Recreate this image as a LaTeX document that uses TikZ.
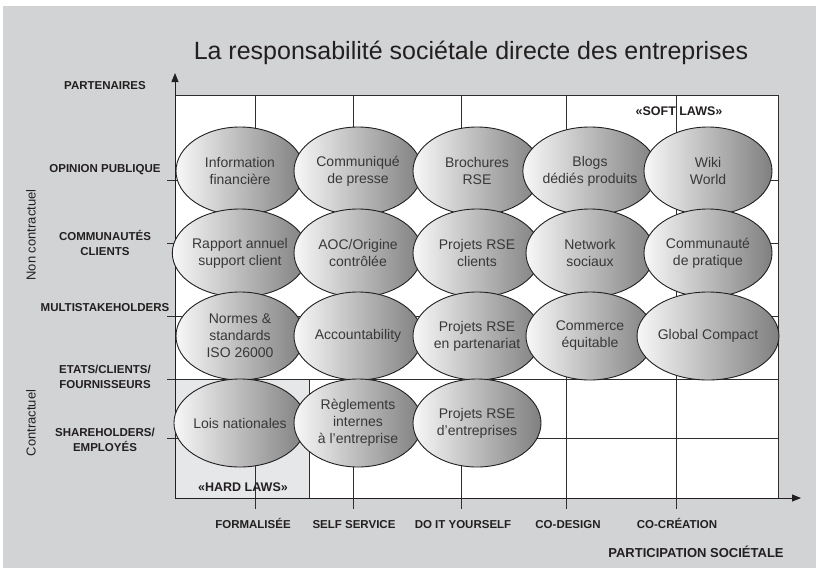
\documentclass[tikz,border=0pt]{standalone}
\usepackage{fontspec}
\setmainfont{Liberation Sans}
\usepackage{xcolor}
\usetikzlibrary{shapes.geometric,arrows.meta}
\definecolor{bggray}{HTML}{D1D3D4}
\definecolor{hardgray}{HTML}{E6E7E8}
\definecolor{inkgray}{HTML}{231F20}
\definecolor{linegray}{HTML}{2E2E2E}
\tikzset{
    oval-box/.style = {ellipse, draw=inkgray, line width=0.9pt, left color=black!3, right color=black!50, minimum width=128pt, minimum height=88pt, inner sep=0pt, align=center, text=black!78, font=\fontsize{14}{17}\selectfont},
    axis-label/.style = {align=center, text=inkgray, font=\bfseries\fontsize{11.5}{14.5}\selectfont},
    base-label/.style = {axis-label, anchor=base},
    grid-line/.style = {draw=linegray, line width=0.8pt},
    axis-arrow/.style = {draw=inkgray, line width=0.9pt, -{Triangle[length=9pt,width=7pt]}},
}

\begin{document}
\begin{tikzpicture}[x=1pt,y=-1pt]
\useasboundingbox (0,0) rectangle (816,568);
\fill[bggray] (3,6) rectangle (816,568);
% plot area
\fill[white] (175,95) rectangle (778,498);
\fill[hardgray] (175,379) rectangle (309,498);
\draw[grid-line] (175,95) -- (778,95) -- (778,498);
\draw[grid-line] (309,379) -- (309,498);
\draw[grid-line] (255,95) -- (255,509);
\draw[grid-line] (353,95) -- (353,509);
\draw[grid-line] (461,95) -- (461,509);
\draw[grid-line] (566,95) -- (566,509);
\draw[grid-line] (676,95) -- (676,509);
\draw[grid-line] (167,180) -- (778,180);
\draw[grid-line] (167,243) -- (778,243);
\draw[grid-line] (167,316) -- (778,316);
\draw[grid-line] (167,379) -- (778,379);
\draw[grid-line] (167,438) -- (778,438);
% axes
\coordinate (origin) at (175,498);
\coordinate (ytip) at (175,73);
\coordinate (xtip) at (801,498);
\draw[axis-arrow] (origin) -- (ytip);
\draw[axis-arrow] (origin) -- (xtip);

\node[anchor=base, text=inkgray, font=\fontsize{25}{30}\selectfont] (title) at (471,59) {La responsabilité sociétale directe des entreprises};

\node[base-label] (partenaires) at (105,89) {PARTENAIRES};
\node[base-label] (opinion) at (105,172) {OPINION PUBLIQUE};
\node[axis-label] (communautes) at (105,243) {COMMUNAUTÉS\\CLIENTS};
\node[base-label] (multi) at (105,311) {MULTISTAKEHOLDERS};
\node[axis-label] (etats) at (105,377) {ETATS/CLIENTS/\\FOURNISSEURS};
\node[axis-label] (shareholders) at (105,440) {SHAREHOLDERS/\\EMPLOYÉS};
\node[text=inkgray, rotate=90, font=\fontsize{13}{15}\selectfont] (noncontr) at (31,235) {Non contractuel};
\node[text=inkgray, rotate=90, font=\fontsize{13}{15}\selectfont] (contr) at (31,423) {Contractuel};

\node[base-label] (formalisee) at (253,528) {FORMALISÉE};
\node[base-label] (selfservice) at (354,528) {SELF SERVICE};
\node[base-label] (diy) at (463,528) {DO IT YOURSELF};
\node[base-label] (codesign) at (568,528) {CO-DESIGN};
\node[base-label] (cocreation) at (677,528) {CO-CRÉATION};
\node[base-label, font=\bfseries\fontsize{13}{15}\selectfont] (participation) at (696,557) {PARTICIPATION SOCIÉTALE};

\node[base-label, font=\bfseries\fontsize{12.5}{15}\selectfont] (soft) at (679,115.5) {«SOFT LAWS»};
\node[base-label, font=\bfseries\fontsize{12.5}{15}\selectfont] (hard) at (243,491.5) {«HARD LAWS»};

% row 1
\node[oval-box] (info) at (240,171) {Information\\financière};
\node[oval-box] (communique) at (358,171) {Communiqué\\de presse};
\node[oval-box] (brochures) at (477,171) {Brochures\\RSE};
\node[oval-box] (blogs) at (590,171) {Blogs\\dédiés produits};
\node[oval-box] (wiki) at (708,171) {Wiki\\World};
% row 2
\node[oval-box] (rapport) at (240,253) {Rapport annuel\\support client};
\node[oval-box] (aoc) at (358,253) {AOC/Origine\\contrôlée};
\node[oval-box] (clients) at (477,253) {Projets RSE\\clients};
\node[oval-box] (network) at (590,253) {Network\\sociaux};
\node[oval-box] (pratique) at (708,253) {Communauté\\de pratique};
% row 3
\node[oval-box] (normes) at (240,336) {Normes \&\\standards\\ISO 26000};
\node[oval-box] (account) at (358,336) {Accountability};
\node[oval-box] (partenariat) at (477,336) {Projets RSE\\en partenariat};
\node[oval-box] (commerce) at (590,336) {Commerce\\équitable};
\node[oval-box] (compact) at (708,336) {Global Compact};
% row 4
\node[oval-box] (lois) at (240,423) {Lois nationales};
\node[oval-box] (reglements) at (358,423) {Règlements\\internes\\à l'entreprise};
\node[oval-box] (entreprises) at (477,423) {Projets RSE\\d'entreprises};
\end{tikzpicture}
\end{document}
